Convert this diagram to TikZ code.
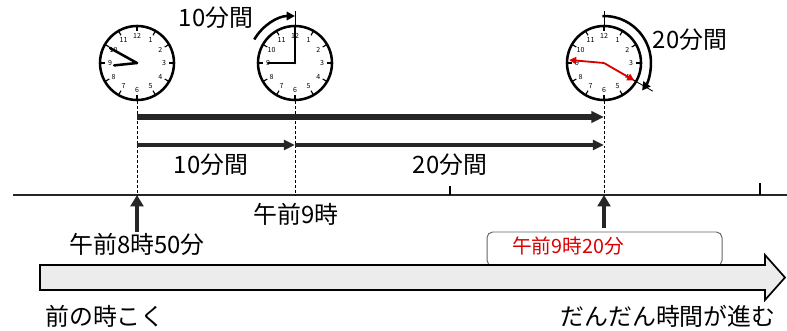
\documentclass[tikz,border=0pt]{standalone}
\usepackage{fontspec}
\setmainfont{Noto Sans CJK JP}
\usetikzlibrary{arrows.meta,positioning,calc}
\tikzset{>=latex}
\tikzset{
	clock/.style={circle, draw=black, line width=1.8pt, minimum size=1.85cm, inner sep=0pt},
	hand/.style={line width=1.8pt, line cap=round},
	redhand/.style={red!85!black, line width=1.3pt, -{Triangle[length=5pt,width=5pt]}},
	guide/.style={dash pattern=on 2pt off 1.5pt, line width=0.6pt},
	span/.style={line width=4.5pt, black!85, -{Triangle[length=9pt,width=8pt]}},
	thinspan/.style={line width=2.8pt, black!85, -{Triangle[length=8pt,width=7pt]}},
	uparrow/.style={line width=3.2pt, black!85, -{Triangle[length=8pt,width=9pt]}},
	turn/.style={line width=1.8pt, -{Triangle[length=6pt,width=6pt]}},
	lbl/.style={font=\fontsize{17}{20}\selectfont, inner sep=0pt},
	num/.style={font=\fontsize{5}{5}\selectfont, inner sep=0pt}
}

\begin{document}
\begin{tikzpicture}[x=0.025cm, y=0.025cm]

	\useasboundingbox (0,0) rectangle (787,330);

	% clocks
	\node (clockA) [clock] at (137,267) {};
	\node (clockB) [clock] at (295,267) {};
	\node (clockC) [clock] at (604,267) {};

	\foreach \c in {clockA,clockB,clockC} {
		\foreach \h in {1,...,12} {
			\node [num] at ($(\c.center)+({90-30*\h}:27)$) {\h};
			\draw [line width=0.8pt] ($(\c.center)+({90-30*\h}:32)$) -- ($(\c.center)+({90-30*\h}:37)$);
		}
	}

	% 8:50
	\draw[hand] (clockA.center) -- ++(151:31);
	\draw[hand] (clockA.center) -- ++(186:23);
	% 9:00
	\draw[hand] (clockB.center) -- ++(90:34);
	\draw[hand] (clockB.center) -- ++(180:27);
	% 9:20
	\draw[redhand] (clockC.center) -- ++(-30:35);
	\draw[redhand] (clockC.center) -- ++(175:35);

	\draw[line width=0.6pt] (clockB.north) -- ++(0,14);
	\draw[line width=0.6pt] (clockC.north) -- ++(0,14);
	\draw[line width=0.6pt] (clockC.-30) -- ++(-30:18);

	\draw[turn] ([shift={(150:47)}]clockB.center) arc (150:90:47);
	\draw[turn] ([shift={(92:47)}]clockC.center) arc (92:-36:47);

	\node (labelTopTen) [lbl, font=\fontsize{17}{20}\selectfont] at (216,312) {10分間};
	\node (labelTopTwenty) [lbl] at (690,290) {20分間};

	% time line
	\coordinate (lineStart) at (13,135);
	\coordinate (lineEnd) at (787,135);
	\coordinate (markA) at (137,135);
	\coordinate (markB) at (295,135);
	\coordinate (markC) at (604,135);

	\draw[line width=2pt, black!85] (lineStart) -- (lineEnd);
	\draw[line width=0.8pt] (450,135) -- (450,144);
	\draw[line width=0.8pt] (760,135) -- (760,147);

	\draw[guide] (clockA.south) -- (markA);
	\draw[guide] (clockB.south) -- (markB);
	\draw[guide] (clockC.south) -- (markC);

	\draw[span] (markA |- 0,213) -- (markC |- 0,213);
	\draw[thinspan] (markA |- 0,185) -- (markB |- 0,185);
	\draw[thinspan] (markB |- 0,185) -- (markC |- 0,185);

	\node (labelTen) [lbl] at (211,165) {10分間};
	\node (labelTwenty) [lbl] at (450,165) {20分間};

	\node (labelNine) [lbl] at (296,116) {午前9時};
	\node (labelStart) [lbl] at (137,86) {午前8時50分};

	\coordinate (arrowFootA) at (137,98);
	\coordinate (arrowFootC) at (604,102);
	\draw[uparrow] (arrowFootA) -- (markA);
	\draw[uparrow] (arrowFootC) -- (markC);

	% answer box
	\draw[line width=0.7pt, black!60, rounded corners=4pt] (487,64) rectangle (722,98);
	\node (labelEnd) [inner sep=0pt, text=red!85!black, font=\fontsize{14}{16}\selectfont] at (568,84) {午前9時20分};

	% flow of time
	\draw[line width=1.2pt, fill=gray!15] (40,65) -- (765,65) -- (765,75) -- (785,52.5) -- (765,30) -- (765,40) -- (40,40) -- cycle;

	\node (labelPast) [lbl] at (105,14) {前の時こく};
	\node (labelFuture) [lbl] at (668,14) {だんだん時間が進む};

\end{tikzpicture}
\end{document}
